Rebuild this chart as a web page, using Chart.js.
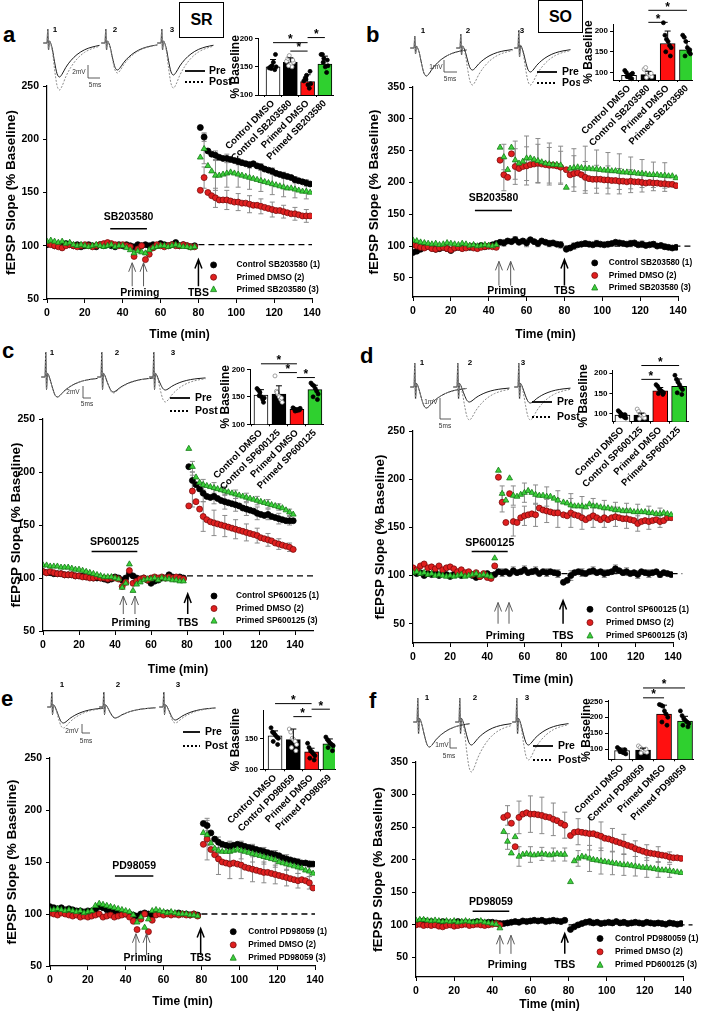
<!DOCTYPE html>
<html>
<head>
<meta charset="utf-8">
<script src="https://cdn.jsdelivr.net/npm/chart.js@4.4.0/dist/chart.umd.min.js"></script>
<style>
body { margin: 0; background: #fff; width: 702px; height: 1015px; position: relative; overflow: hidden; font-family: "Liberation Sans", Arial, sans-serif; }
canvas { position: absolute; }
.letter { position: absolute; font-weight: bold; font-size: 22px; line-height: 1; }
.box { position: absolute; border: 1px solid #000; font-weight: bold; font-size: 16px; display: flex; align-items: center; justify-content: center; box-sizing: border-box; }
</style>
</head>
<body>
<div class="letter" style="left:3px;top:24px">a</div>
<div class="letter" style="left:366px;top:24px">b</div>
<div class="letter" style="left:2px;top:340px">c</div>
<div class="letter" style="left:360px;top:345px">d</div>
<div class="letter" style="left:1px;top:688px">e</div>
<div class="letter" style="left:369px;top:690px">f</div>
<div class="box" style="left:179px;top:2px;width:45px;height:36px">SR</div>
<div class="box" style="left:538px;top:0px;width:45px;height:33px">SO</div>
<script>
const FONT = '"Liberation Sans", Arial, sans-serif';
Chart.defaults.animation = false;
Chart.defaults.font.family = FONT;
Chart.defaults.color = '#000';

// sample times (min): baseline every 2 min, post-TBS every 2 min
const times = [0,2,4,6,8,10,12,14,16,18,20,22,24,26,28,30,32,34,36,38,40,42,44,46,48,50,52,54,56,58,60,62,64,66,68,70,72,74,76,78,
  81,83,85,87,89,91,93,95,97,99,101,103,105,107,109,111,113,115,117,119,121,123,125,127,129,131,133,135,137,139];
const xTicks = [0,20,40,60,80,100,120,140];
const errT10 = [83,89,95,101,107,113,119,125,131,137];
const errT15 = [48,54,60,66,72,78,85,91,97,103,109,115,121,127,133];

// panel a (SR, SB203580)
const aControl = [101,102,100,101,100,102,101,100,101,99,100,101,100,99,101,100,101,100,99,101,100,101,100,99,101,100,101,100,101,100,102,101,100,101,103,100,101,100,99,100,
  211,202,189,186,185,183,182,182,181,180,179,178,177,176,177,175,174,172,171,170,168,167,166,165,164,162,161,160,159,158];
const aPrimedDMSO = [102,101,100,99,98,100,101,100,99,100,101,100,99,100,101,102,103,102,101,100,101,100,99,90,97,100,87,92,98,101,100,99,100,101,100,100,101,100,99,99,
  152,164,150,147,145,143,143,143,142,141,141,140,140,139,138,138,137,136,135,134,133,133,132,131,130,130,129,128,128,128];
const aPrimedDrug = [104,105,104,103,104,102,103,101,100,101,100,99,100,101,100,99,100,101,99,100,100,98,96,93,95,94,93,96,98,99,100,100,99,100,101,100,99,99,98,99,
  183,191,175,170,166,166,167,168,169,168,167,166,165,164,163,162,161,160,159,158,157,156,155,154,154,153,152,151,151,150];
const aErrControl = [4,4,4,3,3,3,3,3,3,3];
const aErrDMSO = [10,9,9,8,8,7,7,6,6,6];
const aErrDrug = [14,14,13,12,11,10,10,9,8,7];

// panel b (SO, SB203580)
const bControl = [90,92,95,98,100,97,95,96,98,96,93,97,98,97,99,98,100,98,101,99,100,102,104,106,105,108,107,110,106,108,105,110,107,104,108,106,104,105,103,102,
  95,97,100,102,103,104,103,102,104,103,102,103,104,106,105,104,103,104,105,102,103,101,102,103,100,101,99,98,97,98];
const bPrimedDMSO = [102,100,98,97,99,96,95,97,98,96,94,97,98,96,97,99,97,96,98,99,100,99,98,235,212,208,245,225,222,225,226,228,229,230,229,228,227,227,226,224,
  220,212,214,215,212,208,206,205,205,205,204,204,203,203,202,202,201,202,201,201,200,199,200,199,199,198,198,197,197,195];
const bPrimedDrug = [109,108,106,105,104,103,104,102,103,105,104,103,102,104,103,101,102,100,101,102,101,100,102,255,240,220,255,235,230,233,238,238,236,234,232,230,229,228,228,227,
  192,222,223,224,223,222,222,221,221,220,219,219,218,218,217,216,216,215,215,214,214,213,212,212,212,211,211,210,210,207];
const bErrControl = [5,5,6,5,5,5,5,4,5,4,4,5,5,4,4];
const bErrDMSO = [25,28,30,30,28,25,28,25,22,22,20,18,15,12,12];
const bErrDrug = [20,30,35,35,33,30,30,35,30,28,28,25,22,20,20];

// panel c (SR, SP600125)
const cControl = [106,105,105,104,104,104,103,103,103,102,102,102,101,101,100,100,100,99,98,99,101,100,98,100,104,102,100,99,100,98,95,97,98,100,100,103,101,100,101,100,
  205,192,188,184,180,177,176,177,175,173,172,171,170,169,168,166,165,164,163,161,160,159,160,158,157,156,155,154,154,154];
const cPrimedDMSO = [106,105,106,105,104,104,103,103,103,102,102,101,101,100,100,101,100,100,99,100,100,99,92,96,107,95,97,99,100,98,100,101,100,101,100,101,100,101,100,99,
  168,182,172,165,158,155,153,152,151,150,149,148,147,146,145,144,143,142,141,140,138,137,136,135,133,132,131,130,129,127];
const cPrimedDrug = [112,112,111,111,111,110,110,110,109,108,108,107,106,105,104,103,102,101,101,101,100,99,91,95,113,88,94,96,98,99,99,100,98,100,99,99,98,98,97,97,
  222,205,195,190,188,187,186,185,184,183,182,181,180,179,178,177,176,175,174,173,172,171,170,169,168,167,166,164,162,160];
const cErrControl = [8,8,7,7,6,6,6,5,5,4];
const cErrDMSO = [15,14,12,10,9,8,7,6,5,4];
const cErrDrug = [5,5,5,4,4,4,4,4,3,3];

// panel d (SO, SP600125)
const dControl = [104,102,103,100,102,101,103,100,102,101,99,101,102,100,101,103,100,98,99,101,102,100,101,104,103,104,102,105,103,104,106,103,104,105,102,104,103,104,103,102,
  93,95,100,103,104,103,102,104,105,103,104,102,103,104,107,105,103,104,102,103,101,104,103,102,103,104,101,103,102,101];
const dPrimedDMSO = [108,106,110,112,108,109,107,110,106,108,109,107,104,106,103,104,101,103,99,102,98,97,110,202,176,155,185,156,155,160,162,163,164,163,170,168,167,166,165,165,
  163,162,165,163,162,160,158,160,162,160,158,160,158,160,161,160,159,159,158,157,154,156,157,156,157,158,156,157,160,160];
const dPrimedDrug = [103,104,102,103,101,102,100,101,100,99,100,99,100,101,99,100,101,102,100,101,100,99,118,209,185,178,201,183,182,184,186,188,186,184,183,183,182,182,180,178,
  176,175,173,172,172,172,171,174,172,172,171,170,170,169,168,168,167,167,167,166,166,166,166,165,165,164,164,165,164,163];
const dErrControl = [4,4,4,4,4,4,5,4,4,4,4,4,4,4,3];
const dErrDMSO = [10,15,10,12,12,15,15,12,12,10,10,10,8,8,6];
const dErrDrug = [8,10,10,10,10,10,12,10,8,8,8,8,8,7,6];

// panel e (SR, PD98059)
const eControl = [107,106,105,106,104,105,104,103,103,102,103,103,104,107,106,104,103,102,101,101,100,100,99,98,100,101,100,99,100,101,100,101,100,100,101,100,100,99,100,99,
  187,185,178,172,169,167,166,165,166,167,166,165,164,163,162,161,160,159,158,157,156,154,153,152,151,150,149,149,148,148];
const ePrimedDMSO = [101,100,99,101,100,99,98,99,97,98,97,98,99,100,97,98,99,97,98,99,100,97,93,85,95,100,83,94,99,100,99,100,99,100,99,100,99,99,100,98,
  167,172,162,157,153,150,149,148,149,148,147,145,144,143,142,141,140,140,139,138,137,136,135,134,133,132,133,132,130,125];
const ePrimedDrug = [104,104,105,104,103,104,103,102,103,101,102,103,108,110,109,108,107,106,105,104,103,102,99,92,97,87,95,103,104,103,102,101,102,101,100,100,100,99,99,98,
  178,176,168,163,161,160,160,160,161,162,161,160,159,158,157,156,155,154,153,152,150,149,148,147,146,145,144,142,141,139];
const eErrControl = [5,5,5,4,4,4,4,4,3,3];
const eErrDMSO = [20,15,14,13,12,10,9,8,7,6];
const eErrDrug = [10,10,9,8,8,7,7,6,6,5];

// panel f (SO, PD98059)
const fControl = [104,105,106,104,105,103,104,105,104,103,104,105,103,104,103,104,105,104,103,104,104,103,102,102,103,104,105,104,106,105,106,107,106,107,105,106,107,106,105,107,
  93,97,100,102,104,105,103,104,102,103,104,103,105,103,104,102,103,104,103,102,104,103,102,103,102,101,103,102,101,102];
const fPrimedDMSO = [100,101,99,100,99,100,98,97,99,100,98,99,100,101,99,100,101,100,99,100,101,102,100,265,268,256,220,265,270,272,270,270,269,268,266,265,262,260,256,253,
  237,242,243,242,241,240,240,238,236,233,232,230,228,226,224,222,220,217,215,213,211,210,209,208,207,206,204,203,203,202];
const fPrimedDrug = [107,108,108,107,106,107,106,105,106,105,106,104,105,106,105,104,105,106,104,103,102,101,95,243,228,210,235,205,208,209,208,207,208,209,208,207,208,209,208,208,
  166,198,202,205,204,202,200,199,198,197,196,195,194,193,192,192,191,190,189,188,188,187,186,185,184,184,183,182,181,180];
const fErrControl = [3,3,3,3,3,3,3,3,3,3,3,3,3,3,3];
const fErrDMSO = [15,25,28,28,25,20,20,25,22,18,15,12,12,12,8];
const fErrDrug = [12,15,12,10,10,10,12,20,20,18,16,15,15,12,10];

// inset bar charts: means, SEM, individual slices, significance pairs [from, to, height]
const catsSB = ['Control DMSO', 'Control SB203580', 'Primed DMSO', 'Primed SB203580'];
const catsSP = ['Control DMSO', 'Control SP600125', 'Primed DMSO', 'Primed SP600125'];
const catsPD = ['Control DMSO', 'Control PD98059', 'Primed DMSO', 'Primed PD98059'];
const aMeans = [150,158,124,155], aSem = [13,8,12,14];
const aDots = [[148,150,152,158,145,150,147,172],[160,165,170,155,150,158,152,162],[125,130,135,118,112,120,128,142],[172,172,165,150,140,152,158,162]];
const aSig = [[0,2,193],[1,2,178],[2,3,202]];
const bMeans = [93,95,170,155], bSem = [5,8,30,20];
const bDots = [[105,100,92,88,95,98,90,85],[108,112,100,95,92,90,88,98],[220,190,180,175,165,160,150,140],[190,185,175,160,150,145,140,155]];
const bSig = [[1,2,221],[1,3,250]];
const cMeans = [153,155,127,163], cSem = [10,15,3,8];
const cDots = [[165,162,158,150,145,148,152,140],[188,160,155,150,145,140,158,148],[130,128,126,125,127,129,124,126],[175,172,170,165,160,155,150,145]];
const cSig = [[0,2,210],[1,2,194],[2,3,185]];
const dMeans = [97,97,157,168], dSem = [5,5,8,18];
const dDots = [[108,104,100,96,92,90,95,98],[112,106,100,96,92,90,88,98],[172,168,162,158,155,152,150,148],[195,185,178,172,165,160,152,148]];
const dSig = [[1,2,185],[1,3,219]];
const eMeans = [154,148,128,141], eSem = [8,17,6,8];
const eDots = [[167,160,158,155,152,150,145,140],[165,160,150,148,145,140,135,130],[142,135,130,128,125,122,118,115],[152,148,145,142,140,138,135,130]];
const eSig = [[0,2,206],[1,2,185],[2,3,197]];
const fMeans = [95,97,210,188], fSem = [8,6,28,15];
const fDots = [[105,100,95,90,88,85,92,98],[110,105,100,95,92,90,88,100],[240,238,235,220,210,200,185,175],[220,205,195,190,185,180,175,170]];
const fSig = [[1,2,261],[1,3,292]];
const jitter = [-0.22,-0.14,-0.06,0.02,0.1,0.18,-0.1,0.14];

// example traces: time base (ms) and normalised shapes
const traceMs = [-1.5,0,0.3,0.6,1,1.5,2.2,3,4,5,6,7.5,9.5,12,15,18,21];
const spikeShape = [0,0,1,-0.5,0.15,0.1,0,0,0,0,0,0,0,0,0,0,0];
const epspShape = [0,0,0,0,0,-0.05,-0.2,-0.55,-0.9,-1,-0.92,-0.72,-0.52,-0.34,-0.2,-0.12,-0.07];

const fills = ['#000000', '#e01f1f', '#3cd23c'];
const strokes = ['#000000', '#7a0d0d', '#167a16'];
const styles = ['circle', 'circle', 'triangle'];
const barFills = ['#ffffff', '#000000', '#ff1010', '#2fd02f'];

function addCanvas(b) {
  const c = document.createElement('canvas');
  c.width = b[2]; c.height = b[3];
  c.style.left = b[0] + 'px'; c.style.top = b[1] + 'px';
  document.body.appendChild(c);
  return c;
}

function drawMarker(ctx, style, x, y, r, fill, stroke) {
  ctx.beginPath();
  if (style === 'triangle') {
    ctx.moveTo(x, y - r * 1.2); ctx.lineTo(x + r, y + r * 0.7); ctx.lineTo(x - r, y + r * 0.7); ctx.closePath();
  } else {
    ctx.arc(x, y, r, 0, Math.PI * 2);
  }
  ctx.fillStyle = fill; ctx.fill();
  ctx.lineWidth = 0.8; ctx.strokeStyle = stroke; ctx.stroke();
}

function arrow(ctx, x, yTip, yBase, color, lw) {
  ctx.strokeStyle = color; ctx.lineWidth = lw;
  ctx.beginPath();
  ctx.moveTo(x, yBase); ctx.lineTo(x, yTip);
  ctx.moveTo(x - 3.5, yTip + 9); ctx.lineTo(x, yTip); ctx.lineTo(x + 3.5, yTip + 9);
  ctx.stroke();
}

function mainDeco(p) {
  return {
    id: 'mainDeco',
    beforeDatasetsDraw(chart) {
      const ctx = chart.ctx, x = chart.scales.x, y = chart.scales.y;
      ctx.save();
      ctx.setLineDash([6, 4]); ctx.strokeStyle = '#000'; ctx.lineWidth = 1.3;
      ctx.beginPath();
      ctx.moveTo(x.getPixelForValue(p.dash[0]), y.getPixelForValue(p.dash[2]));
      ctx.lineTo(x.getPixelForValue(p.dash[1]), y.getPixelForValue(p.dash[2]));
      ctx.stroke();
      ctx.setLineDash([]);
      ctx.strokeStyle = '#8a8a8a'; ctx.lineWidth = 1;
      p.errs.forEach((e, i) => {
        const s = p.series[i];
        p.errT.forEach((t, j) => {
          const v = s[times.indexOf(t)];
          const px = x.getPixelForValue(t);
          const y0 = y.getPixelForValue(v - e[j]), y1 = y.getPixelForValue(v + e[j]);
          ctx.beginPath();
          ctx.moveTo(px, y0); ctx.lineTo(px, y1);
          ctx.moveTo(px - 2.5, y0); ctx.lineTo(px + 2.5, y0);
          ctx.moveTo(px - 2.5, y1); ctx.lineTo(px + 2.5, y1);
          ctx.stroke();
        });
      });
      ctx.restore();
    },
    afterDatasetsDraw(chart) {
      const ctx = chart.ctx, x = chart.scales.x, y = chart.scales.y;
      ctx.save();
      // drug application bar
      const d0 = x.getPixelForValue(p.drugBar[0]), d1 = x.getPixelForValue(p.drugBar[1]);
      ctx.strokeStyle = '#000'; ctx.lineWidth = 1.5;
      ctx.beginPath(); ctx.moveTo(d0, y.getPixelForValue(p.drugBar[2])); ctx.lineTo(d1, y.getPixelForValue(p.drugBar[2])); ctx.stroke();
      ctx.fillStyle = '#000'; ctx.textAlign = 'center'; ctx.textBaseline = 'middle';
      ctx.font = 'bold 10.5px ' + FONT;
      ctx.fillText(p.drug, (d0 + d1) / 2, y.getPixelForValue(p.drugTextY));
      // priming and TBS arrows
      p.prime.forEach(t => arrow(ctx, x.getPixelForValue(t), y.getPixelForValue(p.arrow[0]), y.getPixelForValue(p.arrow[1]), '#5a5a5a', 1));
      arrow(ctx, x.getPixelForValue(p.tbs), y.getPixelForValue(p.tbsTop), y.getPixelForValue(p.arrow[1]), '#000', 1.5);
      ctx.font = 'bold 10.5px ' + FONT;
      ctx.fillText('Priming', x.getPixelForValue((p.prime[0] + p.prime[1]) / 2 + 1), y.getPixelForValue(p.markY));
      ctx.fillText('TBS', x.getPixelForValue(p.tbs), y.getPixelForValue(p.markY));
      // legend
      ctx.textAlign = 'left'; ctx.font = 'bold 8.3px ' + FONT;
      const lx = x.getPixelForValue(p.legendAt[0]), ly = y.getPixelForValue(p.legendAt[1]);
      p.legend.forEach((txt, i) => {
        const yy = ly + i * p.legendGap;
        drawMarker(ctx, styles[i], lx, yy, 3, fills[i], strokes[i]);
        ctx.fillStyle = '#000';
        ctx.fillText(txt, lx + p.legendText, yy);
      });
      ctx.restore();
    }
  };
}

function mainChart(p) {
  const cv = addCanvas(p.box);
  const [L, T, W, H] = p.box;
  const pl = p.plot;
  const datasets = p.series.map((s, i) => ({
    label: p.legend[i],
    data: times.map((t, k) => ({ x: t, y: s[k] })),
    showLine: false,
    pointStyle: styles[i],
    pointRadius: i === 2 ? 3.4 : 3,
    pointBackgroundColor: fills[i],
    pointBorderColor: strokes[i],
    pointBorderWidth: 0.8,
    order: 3 - i
  }));
  const tickFont = { size: 10.5, weight: 'bold' };
  new Chart(cv, {
    type: 'scatter',
    data: { datasets },
    options: {
      responsive: false,
      layout: { padding: { top: pl[1] - T, right: L + W - pl[2], left: 0, bottom: 0 } },
      plugins: { legend: { display: false }, tooltip: { enabled: false } },
      scales: {
        x: {
          type: 'linear', min: 0, max: p.xMax,
          afterBuildTicks: s => { s.ticks = xTicks.map(v => ({ value: v })); },
          afterFit: s => { s.height = T + H - pl[3]; },
          grid: { drawOnChartArea: false, tickLength: 4, color: '#000' },
          border: { color: '#000', width: 1.2 },
          ticks: { font: tickFont, maxRotation: 0, padding: 4 },
          title: { display: true, text: 'Time (min)', font: { size: 12, weight: 'bold' }, padding: { top: 0, bottom: p.xTitlePad } }
        },
        y: {
          min: p.yRange[0], max: p.yRange[1],
          afterBuildTicks: s => { s.ticks = p.yTicks.map(v => ({ value: v })); },
          afterFit: s => { s.width = pl[0] - L; },
          grid: { drawOnChartArea: false, tickLength: 4, color: '#000' },
          border: { color: '#000', width: 1.2 },
          ticks: { font: tickFont, padding: 4 },
          title: { display: true, text: 'fEPSP Slope (% Baseline)', font: { size: 13.5, weight: 'bold' }, padding: { top: p.yTitlePad, bottom: 0 } }
        }
      }
    },
    plugins: [mainDeco(p)]
  });
}

function insetDeco(q) {
  return {
    id: 'insetDeco',
    afterDatasetsDraw(chart) {
      const ctx = chart.ctx, x = chart.scales.x, y = chart.scales.y;
      ctx.save();
      ctx.strokeStyle = '#000'; ctx.lineWidth = 1;
      q.means.forEach((m, i) => {
        const px = x.getPixelForValue(i);
        const y0 = y.getPixelForValue(m), y1 = y.getPixelForValue(m + q.sem[i]);
        ctx.beginPath();
        ctx.moveTo(px, y0); ctx.lineTo(px, y1);
        ctx.moveTo(px - 3, y1); ctx.lineTo(px + 3, y1);
        ctx.stroke();
      });
      ctx.fillStyle = '#000'; ctx.textAlign = 'center'; ctx.textBaseline = 'bottom';
      ctx.font = 'bold 12px ' + FONT;
      q.sig.forEach(s => {
        const x0 = x.getPixelForValue(s[0]), x1 = x.getPixelForValue(s[1]), yy = y.getPixelForValue(s[2]);
        ctx.beginPath(); ctx.moveTo(x0, yy); ctx.lineTo(x1, yy); ctx.stroke();
        ctx.fillText('*', (x0 + x1) / 2, yy + 3);
      });
      ctx.restore();
    }
  };
}

function insetChart(q) {
  const cv = addCanvas(q.box);
  const [L, T, W, H] = q.box;
  const pl = q.plot;
  const datasets = [{
    type: 'bar',
    data: q.means.map((m, i) => ({ x: i, y: m })),
    backgroundColor: barFills,
    borderColor: '#000', borderWidth: 1,
    barThickness: q.bw, order: 2
  }];
  q.dots.forEach((g, i) => datasets.push({
    type: 'scatter',
    data: g.map((v, j) => ({ x: i + jitter[j], y: v })),
    pointRadius: 2,
    pointBackgroundColor: i === 1 ? '#ffffff' : '#000000',
    pointBorderColor: i === 1 ? '#8a8a8a' : '#000000',
    pointBorderWidth: 0.8,
    clip: false, order: 1
  }));
  new Chart(cv, {
    type: 'bar',
    data: { datasets },
    options: {
      responsive: false,
      layout: { padding: { top: pl[1] - T, right: L + W - pl[2], left: 0, bottom: 0 } },
      plugins: { legend: { display: false }, tooltip: { enabled: false } },
      scales: {
        x: {
          type: 'linear', min: q.xRange[0], max: q.xRange[1], offset: false,
          afterBuildTicks: s => { s.ticks = [0, 1, 2, 3].map(v => ({ value: v })); },
          afterFit: s => { s.height = T + H - pl[3]; },
          grid: { drawOnChartArea: false, tickLength: 2, color: '#000' },
          border: { color: '#000', width: 1 },
          ticks: { autoSkip: false, minRotation: 45, maxRotation: 45, padding: 1, font: { size: 9.5, weight: 'bold' }, callback: v => q.cats[v] }
        },
        y: {
          min: q.yRange[0], max: q.yRange[1],
          afterBuildTicks: s => { s.ticks = q.yTicks.map(v => ({ value: v })); },
          afterFit: s => { s.width = pl[0] - L; },
          grid: { drawOnChartArea: false, tickLength: 3, color: '#000' },
          border: { color: '#000', width: 1 },
          ticks: { font: { size: 8, weight: 'bold' }, padding: 2 },
          title: { display: true, text: '% Baseline', font: { size: 12, weight: 'bold' }, padding: { top: q.titlePad, bottom: 0 } }
        }
      }
    },
    plugins: [insetDeco(q)]
  });
}

function traceDeco(r) {
  return {
    id: 'traceDeco',
    afterDraw(chart) {
      const ctx = chart.ctx, L = r.box[0], T = r.box[1];
      ctx.save();
      ctx.fillStyle = '#000'; ctx.textAlign = 'center'; ctx.textBaseline = 'middle';
      ctx.font = 'bold 8px ' + FONT;
      r.nums.forEach((n, i) => ctx.fillText(String(i + 1), n[0] - L, n[1] - T));
      const sb = r.sb;
      ctx.strokeStyle = '#333'; ctx.lineWidth = 0.8;
      ctx.beginPath();
      ctx.moveTo(sb.x - L, sb.y0 - T); ctx.lineTo(sb.x - L, sb.y1 - T); ctx.lineTo(sb.x1 - L, sb.y1 - T);
      ctx.stroke();
      ctx.font = '6.5px ' + FONT; ctx.fillStyle = '#333';
      ctx.fillText(sb.v, sb.vx - L, sb.vy - T);
      ctx.fillText('5ms', sb.hx - L, sb.hy - T);
      const pp = r.pp;
      ctx.strokeStyle = '#000'; ctx.lineWidth = 1.8;
      ctx.beginPath(); ctx.moveTo(pp.x0 - L, pp.y0 - T); ctx.lineTo(pp.x1 - L, pp.y0 - T); ctx.stroke();
      ctx.setLineDash([2, 2]);
      ctx.beginPath(); ctx.moveTo(pp.x0 - L, pp.y1 - T); ctx.lineTo(pp.x1 - L, pp.y1 - T); ctx.stroke();
      ctx.setLineDash([]);
      ctx.fillStyle = '#000'; ctx.textAlign = 'left'; ctx.font = 'bold 10.5px ' + FONT;
      ctx.fillText('Pre', pp.tx - L, pp.y0 - T);
      ctx.fillText('Post', pp.tx - L, pp.y1 - T);
      ctx.restore();
    }
  };
}

function traceChart(r) {
  const cv = addCanvas(r.box);
  const [L, T, W, H] = r.box;
  const base = r.base - T;
  const msPx = 2.5;
  const datasets = [];
  r.art.forEach((ax, k) => {
    const x0 = ax - L;
    datasets.push({
      data: traceMs.map((ms, i) => ({ x: x0 + ms * msPx, y: spikeShape[i] * r.spike[k] + epspShape[i] * r.post[k] })),
      borderColor: '#8a8a8a', borderDash: [2, 1.5], borderWidth: 1, pointRadius: 0, showLine: true, cubicInterpolationMode: 'monotone'
    });
    datasets.push({
      data: traceMs.map((ms, i) => ({ x: x0 + ms * msPx, y: spikeShape[i] * r.spike[k] + epspShape[i] * r.pre[k] })),
      borderColor: '#1a1a1a', borderWidth: 1, pointRadius: 0, showLine: true, cubicInterpolationMode: 'monotone'
    });
  });
  new Chart(cv, {
    type: 'scatter',
    data: { datasets },
    options: {
      responsive: false,
      layout: { padding: 0 },
      plugins: { legend: { display: false }, tooltip: { enabled: false } },
      scales: {
        x: { type: 'linear', min: 0, max: W, display: false },
        y: { min: -(H - base), max: base, display: false }
      }
    },
    plugins: [traceDeco(r)]
  });
}

const ticks250 = [50, 100, 150, 200, 250];
const ticks350 = [50, 100, 150, 200, 250, 300, 350];

mainChart({ box: [0, 70, 345, 275], plot: [47, 86, 312, 299], yRange: [50, 250], yTicks: ticks250, xMax: 140,
  series: [aControl, aPrimedDMSO, aPrimedDrug], errT: errT10, errs: [aErrControl, aErrDMSO, aErrDrug],
  legend: ['Control SB203580 (1)', 'Primed DMSO (2)', 'Primed SB203580 (3)'], legendAt: [88, 82], legendGap: 12.3, legendText: 23,
  drug: 'SB203580', drugBar: [33.4, 52.8, 116], drugTextY: 127, prime: [45, 51], tbs: 80, arrow: [84, 62], tbsTop: 87, markY: 56,
  dash: [80, 140, 101], yTitlePad: 3, xTitlePad: 3 });
mainChart({ box: [352, 70, 350, 275], plot: [413, 87, 678, 297], yRange: [20, 350], yTicks: ticks350, xMax: 140,
  series: [bControl, bPrimedDMSO, bPrimedDrug], errT: errT15, errs: [bErrControl, bErrDMSO, bErrDrug],
  legend: ['Control SB203580 (1)', 'Primed DMSO (2)', 'Primed SB203580 (3)'], legendAt: [96, 73.6], legendGap: 12.5, legendText: 14,
  drug: 'SB203580', drugBar: [32.7, 52.3, 156], drugTextY: 176, prime: [45.4, 51.6], tbs: 80, arrow: [76, 38], tbsTop: 79, markY: 29,
  dash: [80, 147, 100], yTitlePad: 14, xTitlePad: 3 });
mainChart({ box: [0, 400, 345, 280], plot: [43, 419, 313, 631], yRange: [50, 250], yTicks: ticks250, xMax: 150,
  series: [cControl, cPrimedDMSO, cPrimedDrug], errT: errT10, errs: [cErrControl, cErrDMSO, cErrDrug],
  legend: ['Control SP600125 (1)', 'Primed DMSO (2)', 'Primed SP600125 (3)'], legendAt: [95, 83], legendGap: 12.5, legendText: 22,
  drug: 'SP600125', drugBar: [27, 52.4, 125], drugTextY: 134, prime: [44.6, 51.1], tbs: 80.4, arrow: [83, 66], tbsTop: 85, markY: 57,
  dash: [80, 150, 102], yTitlePad: 8, xTitlePad: 3 });
mainChart({ box: [352, 410, 350, 280], plot: [413, 431, 673, 643], yRange: [30, 250], yTicks: ticks250, xMax: 140,
  series: [dControl, dPrimedDMSO, dPrimedDrug], errT: errT15, errs: [dErrControl, dErrDMSO, dErrDrug],
  legend: ['Control SP600125 (1)', 'Primed DMSO (2)', 'Primed SP600125 (3)'], legendAt: [95.3, 65], legendGap: 13.3, legendText: 16,
  drug: 'SP600125', drugBar: [31.6, 51, 125], drugTextY: 134, prime: [45.8, 51.7], tbs: 80.8, arrow: [72, 50], tbsTop: 74, markY: 37.5,
  dash: [80, 145, 102], yTitlePad: 20, xTitlePad: 3 });
mainChart({ box: [0, 740, 345, 275], plot: [50, 758, 315, 966], yRange: [50, 250], yTicks: ticks250, xMax: 140,
  series: [eControl, ePrimedDMSO, ePrimedDrug], errT: errT10, errs: [eErrControl, eErrDMSO, eErrDrug],
  legend: ['Control PD98059 (1)', 'Primed DMSO (2)', 'Primed PD98059 (3)'], legendAt: [96.8, 83], legendGap: 13.2, legendText: 15,
  drug: 'PD98059', drugBar: [34.3, 54.6, 136.5], drugTextY: 146, prime: [45.4, 51], tbs: 79.6, arrow: [81, 60.5], tbsTop: 86, markY: 57.7,
  dash: [80, 140, 100], yTitlePad: 4, xTitlePad: 6 });
mainChart({ box: [352, 745, 350, 270], plot: [416, 762, 683, 977], yRange: [20, 350], yTicks: ticks350, xMax: 140,
  series: [fControl, fPrimedDMSO, fPrimedDrug], errT: errT15, errs: [fErrControl, fErrDMSO, fErrDrug],
  legend: ['Control PD980059 (1)', 'Primed DMSO (2)', 'Primed PD600125 (3)'], legendAt: [96.5, 79], legendGap: 13.3, legendText: 15,
  drug: 'PD98059', drugBar: [29.7, 48.9, 121], drugTextY: 135, prime: [44, 49.8], tbs: 78, arrow: [84, 55.5], tbsTop: 86.5, markY: 37.5,
  dash: [80, 145, 100], yTitlePad: 18, xTitlePad: 3 });

traceChart({ box: [40, 18, 200, 85], base: 43, art: [47, 105, 161], pre: [34, 27, 32], post: [47, 30, 45], spike: [14, 14, 14],
  nums: [[55, 30], [115, 30], [172, 30]], sb: { x: 88, y0: 65, y1: 78, x1: 100, v: '2mV', vx: 79, vy: 72, hx: 95, hy: 85 },
  pp: { x0: 185, x1: 205, y0: 71, y1: 82, tx: 209 } });
traceChart({ box: [405, 22, 175, 70], base: 48, art: [414, 460, 518], pre: [28, 22, 24], post: [28, 37, 37], spike: [12, 14, 18],
  nums: [[423, 31], [468, 31], [522, 31]], sb: { x: 444, y0: 60, y1: 72, x1: 457, v: '1mV', vx: 436, vy: 67, hx: 450, hy: 79 },
  pp: { x0: 537, x1: 557, y0: 72, y1: 83, tx: 562 } });
traceChart({ box: [40, 340, 185, 80], base: 377, art: [45, 101, 153], pre: [20, 15, 13], post: [20, 16, 25], spike: [25, 25, 25],
  nums: [[52, 353], [117, 353], [173, 353]], sb: { x: 83, y0: 386, y1: 398, x1: 91, v: '2mV', vx: 73, vy: 392, hx: 87, hy: 404 },
  pp: { x0: 170, x1: 190, y0: 398, y1: 411, tx: 195 } });
traceChart({ box: [405, 348, 180, 95], base: 387, art: [414, 457, 518], pre: [21, 15, 16], post: [21, 33, 33], spike: [24, 24, 24],
  nums: [[422, 363], [470, 363], [523, 363]], sb: { x: 440, y0: 398, y1: 419, x1: 451, v: '1mV', vx: 431, vy: 402, hx: 445, hy: 426 },
  pp: { x0: 532, x1: 552, y0: 402, y1: 417, tx: 557 } });
traceChart({ box: [44, 678, 190, 90], base: 707, art: [51, 103, 163], pre: [16, 11, 13], post: [21, 11, 16], spike: [15, 15, 15],
  nums: [[62, 685], [118, 685], [178, 685]], sb: { x: 82, y0: 724, y1: 733, x1: 90, v: '2mV', vx: 72, vy: 731, hx: 86, hy: 741 },
  pp: { x0: 183, x1: 200, y0: 732, y1: 746, tx: 205 } });
traceChart({ box: [410, 688, 175, 95], base: 722, art: [417, 459, 516], pre: [25, 23, 23], post: [25, 50, 38], spike: [24, 24, 24],
  nums: [[427, 698], [475, 698], [527, 698]], sb: { x: 450, y0: 738, y1: 748, x1: 457, v: '1mV', vx: 442, vy: 745, hx: 449, hy: 756 },
  pp: { x0: 533, x1: 553, y0: 746, y1: 760, tx: 558 } });

insetChart({ box: [215, 0, 130, 165], plot: [258, 38.7, 333, 95], yRange: [100, 200], yTicks: [100, 150, 200], xRange: [-0.87, 3.47],
  means: aMeans, sem: aSem, dots: aDots, sig: aSig, cats: catsSB, bw: 14, titlePad: 13 });
insetChart({ box: [570, 0, 132, 160], plot: [613, 24, 692, 80], yRange: [82, 217], yTicks: [100, 150, 200], xRange: [-0.83, 3.26],
  means: bMeans, sem: bSem, dots: bDots, sig: bSig, cats: catsSB, bw: 15, titlePad: 11 });
insetChart({ box: [207, 330, 140, 170], plot: [250, 369.3, 323, 424.3], yRange: [100, 200], yTicks: [100, 150, 200], xRange: [-0.61, 3.45],
  means: cMeans, sem: cSem, dots: cDots, sig: cSig, cats: catsSP, bw: 14, titlePad: 11 });
insetChart({ box: [570, 330, 132, 170], plot: [612, 370, 688, 421.7], yRange: [81, 208], yTicks: [100, 150, 200], xRange: [-0.53, 3.47],
  means: dMeans, sem: dSem, dots: dDots, sig: dSig, cats: catsSP, bw: 15, titlePad: 6 });
insetChart({ box: [215, 660, 135, 180], plot: [263, 710, 335, 769.3], yRange: [100, 195.7], yTicks: [100, 150], xRange: [-0.66, 3.28],
  means: eMeans, sem: eSem, dots: eDots, sig: eSig, cats: catsPD, bw: 14, titlePad: 13 });
insetChart({ box: [550, 660, 152, 175], plot: [608, 700.7, 693, 759.3], yRange: [68, 252], yTicks: [100, 150, 200, 250], xRange: [-0.67, 3.38],
  means: fMeans, sem: fSem, dots: fDots, sig: fSig, cats: catsPD, bw: 15, titlePad: 29 });
</script>
</body>
</html>
